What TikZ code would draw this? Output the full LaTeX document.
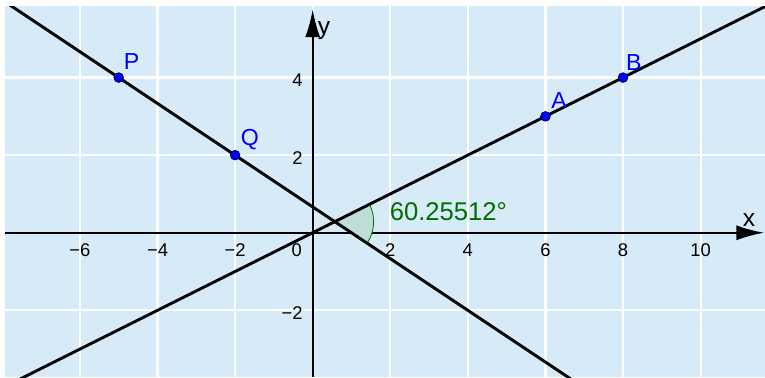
\documentclass[tikz,border=0pt]{standalone}
\usepackage{fontspec}
\setmainfont{Liberation Sans}
\usetikzlibrary{arrows.meta, calc, angles, positioning}
\definecolor{PlotBlue}{RGB}{214, 234, 247}
\definecolor{PointBlue}{RGB}{0, 0, 255}
\definecolor{PointEdge}{RGB}{0, 0, 110}
\definecolor{AngleGreen}{RGB}{0, 110, 0}
\definecolor{AngleFill}{RGB}{192, 222, 216}

\begin{document}
\begin{tikzpicture}[
    gridline/.style={white, line width=1.6pt},
    axisline/.style={black, line width=1.6pt, -{Latex[length=7.2mm, width=3.9mm]}},
    objline/.style={black, line width=2.1pt},
    pt/.style={circle, fill=PointBlue, draw=PointEdge, line width=0.6pt, inner sep=0pt, minimum size=2.4mm},
    ptlabel/.style={text=PointBlue, inner sep=0pt, font=\fontsize{17}{19}\selectfont},
    ticklabel/.style={inner sep=0pt, font=\fontsize{13.5}{15}\selectfont},
    axislabel/.style={inner sep=0pt, font=\fontsize{18}{20}\selectfont},
  ]
    \useasboundingbox (-8.06,-3.72) rectangle (11.66,6.0);

    % Plot area
    \fill[PlotBlue] (-7.93,-3.72) rectangle (11.66,5.84);
    \clip (-7.93,-3.72) rectangle (11.66,5.84);

    % Grid
    \foreach \x in {-6,-4,...,10} \draw[gridline] (\x,-3.72) -- (\x,5.84);
    \foreach \y in {-2,2,4} \draw[gridline] (-7.93,\y) -- (11.66,\y);

    % Axes
    \coordinate (xstart) at (-7.93,0);
    \coordinate (xend) at (11.64,0);
    \coordinate (ystart) at (0,-3.72);
    \coordinate (yend) at (0,5.76);
    \draw[axisline] (xstart) -- (xend);
    \draw[axisline] (ystart) -- (yend);
    \node[axislabel] (xlabel) at (11.25,0.33) {x};
    \node[axislabel] (ylabel) at (0.29,5.22) {y};

    % Tick labels
    \foreach \x/\t in {-6/−6,-4/−4,-2/−2,2/2,4/4,6/6,8/8,10/10}
      \node[ticklabel] (tx\x) at (\x,-0.45) {\t};
    \node[ticklabel] (t0) at (-0.41,-0.45) {0};
    \foreach \y/\t in {-2/−2,2/2,4/4}
      \node[ticklabel, anchor=east] (ty\y) at (-0.25,\y-0.07) {\t};

    % Points
    \node[pt] (P) at (-5,4) {};
    \node[pt] (Q) at (-2,2) {};
    \node[pt] (A) at (6,3) {};
    \node[pt] (B) at (8,4) {};
    \coordinate (S) at (intersection of P--Q and A--B);
    \coordinate (R) at ($(Q)!2!(S)$);

    % Angle
    \pic[draw=AngleGreen, line width=0.6pt, fill=AngleFill, angle radius=1cm] {angle = R--S--B};
    \node[anchor=west, inner sep=0pt, text=AngleGreen, font=\fontsize{18.8}{21}\selectfont] (anglelabel) at (1.98,0.54) {60.25512°};

    % Lines
    \draw[objline] ($(Q)!-6!(P)$) -- ($(P)!-6!(Q)$);
    \draw[objline] ($(A)!-8!(B)$) -- ($(A)!8!(B)$);

    % Points again on top
    \foreach \p in {P,Q,A,B} \node[pt] at (\p) {};
    \node[ptlabel] (Plabel) at ($(P)+(0.33,0.42)$) {P};
    \node[ptlabel] (Qlabel) at ($(Q)+(0.38,0.40)$) {Q};
    \node[ptlabel] (Alabel) at ($(A)+(0.35,0.40)$) {A};
    \node[ptlabel] (Blabel) at ($(B)+(0.28,0.40)$) {B};
\end{tikzpicture}
\end{document}
